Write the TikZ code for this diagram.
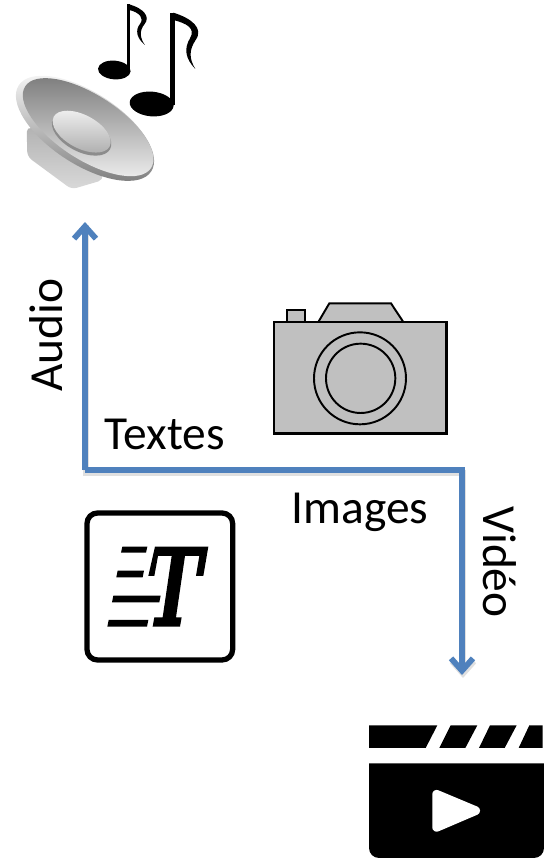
\documentclass[tikz,border=0pt]{standalone}
\usepackage{fontspec}
\setmainfont{Carlito}
\usetikzlibrary{arrows.meta}
\definecolor{axisblue}{HTML}{4F81BD}
\definecolor{cameragray}{HTML}{C0C0C0}
\tikzset{
  axis/.style={axisblue, line width=3.3pt, line join=miter, -{Straight Barb[length=7pt,width=12.5pt,line width=3.3pt]}},
  axisshadow/.style={black!35, opacity=0.35, line width=3.4pt, -{Straight Barb[length=7pt,width=12.5pt,line width=3.4pt]}},
  label/.style={font=\fontsize{27}{27}\selectfont, inner sep=0pt},
  iconline/.style={black, line width=1.1pt},
}
\begin{document}
\begin{tikzpicture}[x=0.02cm, y=-0.02cm]
  \useasboundingbox (0,0) rectangle (546,858);

  % speaker
  \begin{scope}[scale=0.3333]
    \shade[top color=black!30, bottom color=black!15, rounded corners=3pt] (80,380) -- (82,470) -- (215,568) -- (310,540) -- (300,440) -- cycle;
    \begin{scope}[shift={(255,385)}, rotate=-33]
      \shade[top color=black!4, bottom color=black!50] (0,0) ellipse [x radius=237, y radius=108];
      \shade[top color=black!50, bottom color=black!8] (6,-8) ellipse [x radius=225, y radius=97];
    \end{scope}
    \begin{scope}[shift={(245,395)}, rotate=-28]
      \fill[black!45] (3,6) ellipse [x radius=97, y radius=53];
      \shade[top color=black!6, bottom color=black!32] (0,0) ellipse [x radius=95, y radius=50];
    \end{scope}
  \end{scope}

  % notes
  \begin{scope}[scale=0.3333]
    \fill[black, rotate around={-5:(343,210)}] (343,210) ellipse [x radius=49, y radius=28];
    \fill[black] (380,13) rectangle (390,208);
    \fill[black] (388,13) .. controls (430,25) and (452,50) .. (434,72) .. controls (417,92) and (420,115) .. (435,135)
      .. controls (410,115) and (405,90) .. (420,72) .. controls (433,55) and (420,38) .. (388,30) -- cycle;
    \fill[black, rotate around={-5:(455,312)}] (455,312) ellipse [x radius=66, y radius=37];
    \fill[black] (510,38) rectangle (525,315);
    \fill[black] (520,38) .. controls (575,55) and (612,85) .. (587,120) .. controls (567,150) and (567,175) .. (586,207)
      .. controls (555,175) and (552,145) .. (570,115) .. controls (588,85) and (560,70) .. (520,60) -- cycle;
  \end{scope}

  % camera
  \begin{scope}[shift={(260,290)}, scale=0.3333, iconline]
    \filldraw[fill=cameragray] (80,96) -- (80,60) -- (136,60) -- (136,96);
    \filldraw[fill=cameragray] (175,96) -- (208,40) -- (393,40) -- (430,96);
    \filldraw[fill=cameragray, line width=1.4pt] (42,96) rectangle (560,430);
    \draw (300,265) circle (138);
    \draw (302,265) circle (104);
  \end{scope}

  % text icon
  \begin{scope}[shift={(70,500)}, scale=0.3333]
    \draw[black, line width=3pt, rounded corners=6pt] (51,39) rectangle (488,480);
    \fill[black] (157,140) -- (232,140) -- (228,158) -- (153,158) -- cycle;
    \fill[black] (143,212) -- (222,212) -- (218,232) -- (139,232) -- cycle;
    \fill[black] (130,287) -- (272,287) -- (268,307) -- (126,307) -- cycle;
    \fill[black] (116,360) -- (235,360) -- (231,380) -- (112,380) -- cycle;
    \fill[black] (255,140) -- (415,140) -- (400,228) -- (378,228) -- (388,168) -- (345,168)
      -- (318,352) -- (335,352) -- (330,380) -- (248,380) -- (253,352) -- (278,352)
      -- (305,168) -- (264,168) -- (253,228) -- (235,228) -- cycle;
  \end{scope}

  % clapper
  \begin{scope}[shift={(360,650)}, scale=0.3333]
    \fill[black] (27,226) -- (232,226) -- (197,294) -- (27,294) -- cycle;
    \fill[black] (272,226) -- (352,226) -- (316,294) -- (238,294) -- cycle;
    \fill[black] (390,226) -- (470,226) -- (434,294) -- (357,294) -- cycle;
    \fill[black] (508,226) -- (548,226) -- (548,294) -- (476,294) -- cycle;
    \fill[black] (27,340) -- (552,340) -- (552,594) arc [start angle=0, end angle=90, radius=30]
      -- (57,624) arc [start angle=90, end angle=180, radius=30] -- cycle;
    \filldraw[white, line width=5pt, line join=round] (230,433) -- (347,482) -- (230,532) -- cycle;
  \end{scope}

  % axes
  \coordinate (audiotip) at (85,222);
  \coordinate (origin) at (85,470);
  \coordinate (bend) at (462,470);
  \coordinate (videotip) at (462,675);
  \draw[axisshadow] ([shift={(1,3)}]audiotip) -- ([shift={(1,3)}]origin) -- ([shift={(1,3)}]bend) -- ([shift={(1,3)}]videotip);
  \draw[axis] (origin) -- (audiotip);
  \draw[axis] (origin) -- (bend) -- (videotip);

  \node[label, rotate=90] (audio) at (46,335) {Audio};
  \node[label] (textes) at (165,434) {Textes};
  \node[label] (images) at (360,512) {Images};
  \node[label, rotate=-90] (video) at (500,562) {Vidéo};
\end{tikzpicture}
\end{document}
